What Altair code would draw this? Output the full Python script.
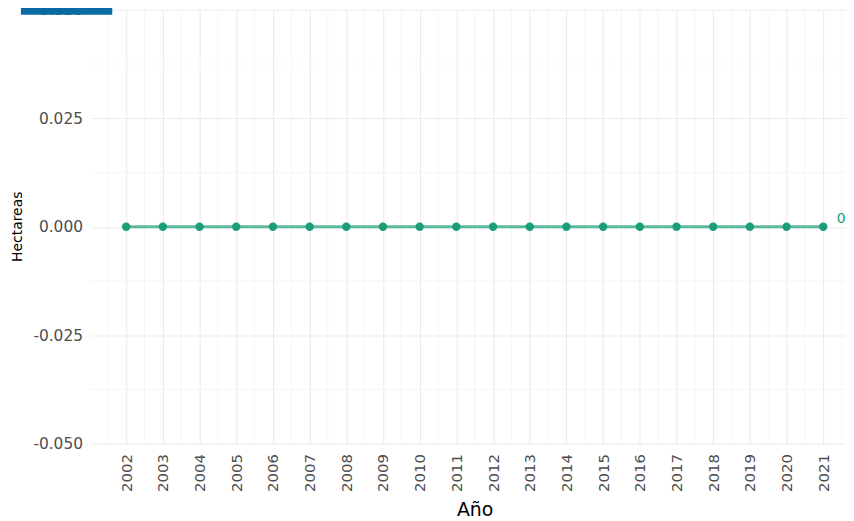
import altair as alt
import pandas as pd

years = list(range(2002, 2022))
hectareas = [0] * 20
end_label = ["0"]

y_major = [-0.05, -0.025, 0.0, 0.025, 0.05]
y_minor = [-0.0375, -0.0125, 0.0125, 0.0375]
x_minor = [y - 0.5 for y in years] + [years[-1] + 0.5]

df = pd.DataFrame({"Año": years, "Hectareas": hectareas})
df_last = pd.DataFrame({"Año": [years[-1]], "Hectareas": [hectareas[-1]], "lab": end_label})

xscale = alt.Scale(domain=[2001.053, 2021.62], nice=False, zero=False)
yscale = alt.Scale(domain=[-0.05, 0.05], nice=False, zero=False)

xaxis = alt.Axis(
    values=years, format="d", labelOverlap=False, labelFlush=False,
    labelAngle=270, labelAlign="right", labelBaseline="middle",
    labelPadding=10, labelFont="DejaVu Sans", labelFontSize=15, labelColor="#4d4d4d",
    ticks=False, domain=False,
    grid=True, gridColor="#ebebeb", gridWidth=1.1,
    title="Año", titleFont="DejaVu Sans", titleFontSize=19, titleFontWeight="normal",
    titleColor="#000000", titleX=386, titleY=72, titleAlign="center",
    titleBaseline="alphabetic", titleAnchor="start",
)
yaxis = alt.Axis(
    values=y_major, labelOverlap=False, labelFlush=False,
    labelExpr="replace(format(datum.value, '.3f'), '\u2212', '-')",
    labelPadding=9, labelFont="DejaVu Sans", labelFontSize=15.5, labelColor="#4d4d4d",
    ticks=False, domain=False,
    grid=True, gridColor="#ebebeb", gridWidth=1.1,
    title="Hectareas", titleFont="DejaVu Sans", titleFontSize=14, titleFontWeight="normal",
    titleColor="#000000", titleX=-74, titleY=218, titleAngle=270, titleAlign="center",
    titleBaseline="middle", titleAnchor="start",
)

vminor = alt.Chart(pd.DataFrame({"Año": x_minor})).mark_rule(color="#f0f0f0", strokeWidth=0.7).encode(
    x=alt.X("Año:Q", scale=xscale, axis=xaxis)
)
hminor = alt.Chart(pd.DataFrame({"Hectareas": y_minor})).mark_rule(color="#f0f0f0", strokeWidth=0.7).encode(
    y=alt.Y("Hectareas:Q", scale=yscale, axis=yaxis)
)

base = alt.Chart(df).encode(
    x=alt.X("Año:Q", scale=xscale, axis=xaxis),
    y=alt.Y("Hectareas:Q", scale=yscale, axis=yaxis),
)

line = base.mark_line(color="#1b9e77", strokeWidth=3, opacity=0.7)
pts = base.mark_circle(color="#1b9e77", size=72, opacity=1)

txt = alt.Chart(df_last).mark_text(
    color="#1b9e77", font="DejaVu Sans", fontSize=14, dx=18, dy=-8, align="center"
).encode(
    x=alt.X("Año:Q", scale=xscale, axis=xaxis),
    y=alt.Y("Hectareas:Q", scale=yscale, axis=yaxis),
    text="lab:N",
)

box = alt.Chart(pd.DataFrame({"k": [0]})).mark_rect(color="#0b69a3").encode(
    x=alt.value(-71), x2=alt.value(21), y=alt.value(-8), y2=alt.value(5)
)

chart = alt.layer(vminor, hminor, line, pts, txt, box).properties(
    width=760, height=437,
    autosize=alt.AutoSizeParams(type="none"),
    padding={"left": 84, "top": 0, "right": 0, "bottom": 76},
    background="white",
).configure_view(stroke=None)

chart.save("out.html", embed_options={"renderer": "svg", "actions": False})
